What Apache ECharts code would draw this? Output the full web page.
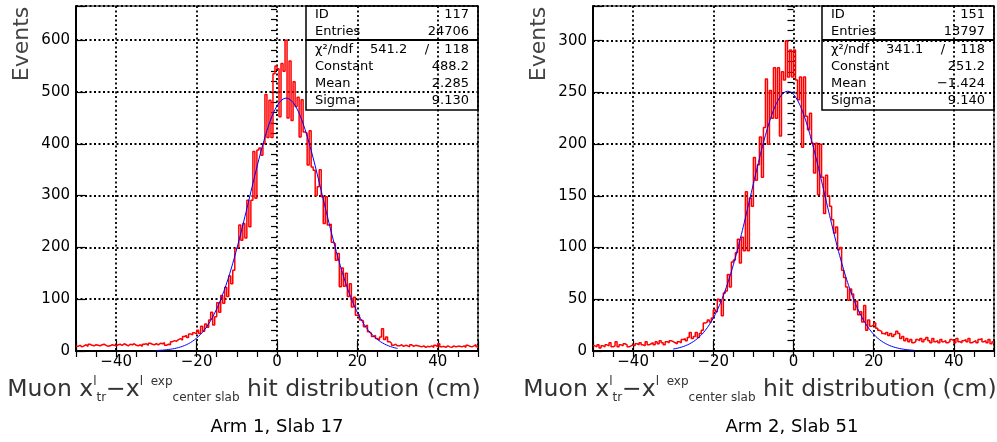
<!DOCTYPE html>
<html><head><meta charset="utf-8">
<script src="https://cdn.jsdelivr.net/npm/echarts@6/dist/echarts.min.js"></script>
<style>html,body{margin:0;padding:0;background:#fff}#c{width:997px;height:442px}</style>
</head><body><div id="c"></div>
<script>
// ---- data ----
const binMin = -50;
const binWidth = 0.5;
const xTickLabels = [-40, -20, 0, 20, 40];

const arm1Counts = [
  9,11,8,10,12,9,13,11,10,12,
  11,10,12,13,11,9,10,12,11,10,
  12,13,11,14,12,10,13,12,14,11,
  10,12,9,13,14,11,15,13,12,14,
  12,15,14,16,11,13,12,18,20,19,
  22,24,21,28,30,26,33,31,35,33,
  40,34,48,38,52,46,60,75,50,66,
  93,75,107,92,123,105,145,130,156,198,
  200,243,214,246,218,291,240,291,385,295,
  388,392,378,400,495,412,484,412,535,550,
  545,452,555,540,600,450,560,445,520,472,
  490,413,485,423,420,359,425,355,349,300,
  317,350,298,246,298,243,245,210,207,175,
  188,124,160,125,150,105,130,85,104,69,
  70,60,58,47,50,37,34,28,30,24,
  21,27,43,22,27,18,15,11,13,10,
  10,12,9,11,10,8,12,9,11,10,
  9,8,10,7,9,8,10,7,11,8,
  14,8,9,7,10,8,7,10,8,9,
  9,8,10,7,11,9,8,10,12,8
];
const arm2Counts = [
  5,4,6,3,5,4,6,5,8,4,
  5,9,4,6,5,7,6,4,5,6,
  5,7,6,8,6,5,9,6,7,8,
  6,9,7,10,8,6,9,8,10,9,
  8,7,9,8,11,12,10,13,18,12,
  14,18,13,17,20,27,28,30,28,32,
  40,38,50,48,34,56,58,74,62,86,
  88,95,108,85,110,97,154,97,148,140,
  187,165,180,207,168,216,263,200,252,225,
  274,225,274,208,270,262,300,265,291,265,
  291,262,243,265,197,265,227,214,230,201,
  172,201,151,200,168,133,170,150,140,127,
  114,120,98,100,78,71,62,49,60,55,
  40,48,35,38,28,44,20,30,24,25,
  27,22,20,19,17,16,18,15,17,14,
  16,19,17,12,14,10,12,9,11,8,
  9,11,10,12,9,11,13,10,8,12,
  9,10,8,11,9,10,8,9,11,10,
  8,12,9,8,10,11,9,12,8,9,
  10,8,11,12,9,10,8,11,7,9
];
// gaussian fit parameters: constant, mean, sigma
const arm1Fit = [488.2, 2.285, 9.130];
const arm2Fit = [251.2, -1.424, 9.140];
const fitRange = [-30, 30];

const statLabels = ['ID', 'Entries', 'χ²/ndf', 'Constant', 'Mean', 'Sigma'];
const arm1Stats = ['117', '24706', '541.2', '118', '488.2', '2.285', '9.130'];
const arm2Stats = ['151', '13797', '341.1', '118', '251.2', '\u22121.424', '9.140'];
const panelTitles = ['Arm 1, Slab 17', 'Arm 2, Slab 51'];
const yMax = [666, 333.6];
const yMajor = [100, 50];
const yMinor = [20, 10];

// ---- build ----
function histData(counts) {
  const d = counts.map((v, i) => [binMin + i * binWidth, v]);
  d.push([binMin + counts.length * binWidth, counts[counts.length - 1]]);
  return d;
}
function fitData(p) {
  const d = [];
  for (let x = fitRange[0]; x <= fitRange[1] + 1e-9; x += 0.25) {
    const z = (x - p[1]) / p[2];
    d.push([x, p[0] * Math.exp(-0.5 * z * z)]);
  }
  return d;
}
const FONT = 'DejaVu Sans';
const grids = [
  {left: 76, top: 6, width: 402, height: 345},
  {left: 593, top: 6, width: 401, height: 345}
];
const dotted = {type: [2, 2.5], color: '#000', width: 1.8};
const xAxes = [], yAxes = [], series = [], graphic = [];
const countsAll = [arm1Counts, arm2Counts];
const fitsAll = [arm1Fit, arm2Fit];
const statsAll = [arm1Stats, arm2Stats];

grids.forEach((g, p) => {
  g.show = true; g.borderColor = '#000'; g.borderWidth = 1; g.backgroundColor = 'transparent';
  xAxes.push({
    gridIndex: p, type: 'value', min: binMin, max: -binMin, splitNumber: 5,
    axisLine: {show: true, onZero: false, lineStyle: {color: '#000', width: 2}},
    axisTick: {show: true, inside: true, length: 10, lineStyle: {color: '#000', width: 1.2}},
    axisLabel: {show: true, color: '#000', fontSize: 15, fontFamily: FONT, margin: 4,
      formatter: v => xTickLabels.indexOf(v) >= 0 ? String(v).replace('-', '\u2212') : ''},
    splitLine: {show: true, lineStyle: dotted}
  });
  xAxes.push({
    gridIndex: p, type: 'value', min: binMin, max: -binMin, interval: 5,
    axisLine: {show: false}, axisLabel: {show: false}, splitLine: {show: false},
    axisTick: {show: true, inside: true, length: 6, lineStyle: {color: '#000', width: 1.2}}
  });
  yAxes.push({
    gridIndex: p, type: 'value', min: 0, max: yMax[p], interval: yMajor[p],
    axisLine: {show: true, onZero: false, lineStyle: {color: '#000', width: 2}},
    axisTick: {show: true, inside: true, length: 9, lineStyle: {color: '#000', width: 1.2}},
    axisLabel: {show: true, color: '#000', fontSize: 15, fontFamily: FONT, margin: 6,
      formatter: v => (v % yMajor[p] === 0 ? String(v) : '')},
    splitLine: {show: true, lineStyle: dotted}
  });
  yAxes.push({
    gridIndex: p, type: 'value', min: 0, max: yMax[p], interval: yMinor[p],
    axisLine: {show: false}, axisLabel: {show: false}, splitLine: {show: false},
    axisTick: {show: true, inside: true, length: 6, lineStyle: {color: '#000', width: 1.2}}
  });
  series.push({
    type: 'line', xAxisIndex: 2 * p, yAxisIndex: 2 * p, step: 'end', color: '#ff0000',
    data: histData(countsAll[p]), symbol: 'none', silent: true, z: 3, sampling: null,
    itemStyle: {color: '#ff0000'},
    lineStyle: {color: '#ff0000', width: 1.5}
  });
  series.push({
    type: 'line', xAxisIndex: 2 * p, yAxisIndex: 2 * p, color: '#0000ff',
    data: fitData(fitsAll[p]), symbol: 'none', silent: true, z: 4,
    lineStyle: {color: '#0000ff', width: 1}
  });

  // stats box
  const bx = g.left + g.width - 172, by = 6, bw = 172, bh = 104;
  const st = statsAll[p];
  graphic.push({type: 'rect', shape: {x: bx, y: by, width: bw, height: bh}, z: 10,
    style: {fill: 'none', stroke: '#000', lineWidth: 1.5}});
  graphic.push({type: 'line', shape: {x1: bx, y1: by + 34, x2: bx + bw, y2: by + 34}, z: 10,
    style: {stroke: '#000', lineWidth: 2}});
  const rowY = [9, 26, 44, 61, 78, 95];
  const vals = [st[0], st[1], st[3], st[4], st[5], st[6]];
  const ts = {fontSize: 13, fontFamily: FONT, fill: '#000', verticalAlign: 'middle', textVerticalAlign: 'middle'};
  statLabels.forEach((lab, r) => {
    graphic.push({type: 'text', x: bx + 9, y: by + rowY[r], z: 11,
      style: Object.assign({text: lab, align: 'left', textAlign: 'left'}, ts)});
    graphic.push({type: 'text', x: bx + bw - 9, y: by + rowY[r], z: 11,
      style: Object.assign({text: vals[r], align: 'right', textAlign: 'right'}, ts)});
  });
  graphic.push({type: 'text', x: bx + 64, y: by + rowY[2], z: 11,
    style: Object.assign({text: st[2], align: 'left', textAlign: 'left'}, ts)});
  graphic.push({type: 'text', x: bx + 121, y: by + rowY[2], z: 11,
    style: Object.assign({text: '/', align: 'center', textAlign: 'center'}, ts)});

  // y title
  graphic.push({type: 'text', x: g.left - 54, y: 44, rotation: Math.PI / 2, z: 11,
    style: {text: 'Events', fontSize: 22, fontFamily: FONT, fill: '#444', align: 'center', verticalAlign: 'middle', textAlign: 'center', textVerticalAlign: 'middle'}});
  // x title
  const cx = p === 0 ? 244 : 760;
  graphic.push({type: 'text', x: cx, y: 390, z: 11,
    style: {
      text: '{m|Muon x}{sp|l}{sb|tr}{m|\u2212x}{sp|l  exp}{sb|center slab}{m| hit distribution (cm)}',
      align: 'center', verticalAlign: 'middle', textAlign: 'center', textVerticalAlign: 'middle',
      rich: {
        m: {fontSize: 23.5, fontFamily: FONT, fill: '#333', color: '#333', lineHeight: 28, verticalAlign: 'middle'},
        sp: {fontSize: 12, fontFamily: FONT, fill: '#333', color: '#333', lineHeight: 15, verticalAlign: 'top'},
        sb: {fontSize: 12, fontFamily: FONT, fill: '#333', color: '#333', lineHeight: 15, verticalAlign: 'bottom'}
      }
    }});
  // subtitle
  graphic.push({type: 'text', x: p === 0 ? 277 : 792, y: 427, z: 11,
    style: {text: panelTitles[p], fontSize: 18, fontFamily: FONT, fill: '#000', align: 'center', verticalAlign: 'middle', textAlign: 'center', textVerticalAlign: 'middle'}});
});

const chart = echarts.init(document.getElementById('c'), null, {renderer: 'canvas'});
chart.setOption({
  animation: false,
  backgroundColor: '#fff',
  grid: grids, xAxis: xAxes, yAxis: yAxes, series: series, graphic: graphic
});
</script></body></html>
